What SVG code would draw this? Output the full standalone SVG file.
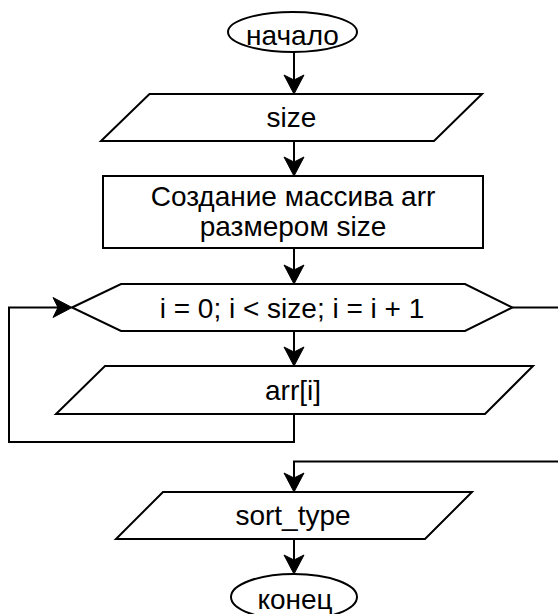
<svg xmlns="http://www.w3.org/2000/svg" width="558" height="614" viewBox="0 0 558 614">
  <style>
    .shape { fill: #ffffff; stroke: #000000; stroke-width: 2; }
    .conn { fill: none; stroke: #000000; stroke-width: 2; }
    .label { font-family: "Liberation Sans", Arial, Helvetica, sans-serif; font-size: 28px; fill: #000000; text-anchor: middle; }
  </style>
  <defs>
    <marker id="arrow" markerUnits="userSpaceOnUse" viewBox="-20 -11 21 22" refX="-10" refY="0" markerWidth="21" markerHeight="22" orient="auto">
      <path d="M0,0 L-19,-10 L-14,0 L-19,10 Z" fill="#000000" stroke="#000000" stroke-width="1" stroke-linejoin="miter"/>
    </marker>
  </defs>
  <rect x="0" y="0" width="558" height="614" fill="#ffffff"/>

  <g id="connectors">
    <path class="conn" d="M294,51 V84" marker-end="url(#arrow)"/>
    <path class="conn" d="M294,141 V166" marker-end="url(#arrow)"/>
    <path class="conn" d="M294,248 V274" marker-end="url(#arrow)"/>
    <path class="conn" d="M294,331 V356" marker-end="url(#arrow)"/>
    <path class="conn" d="M294,414 V442 H9 V307.5 H62" marker-end="url(#arrow)"/>
    <path class="conn" d="M512.5,307.5 H560 V461.5 H294 V482" marker-end="url(#arrow)"/>
    <path class="conn" d="M294,539 V564" marker-end="url(#arrow)"/>
  </g>

  <g id="start">
    <ellipse class="shape" cx="292.5" cy="32" rx="64.5" ry="20"/>
    <text class="label" x="292.5" y="45">начало</text>
  </g>

  <g id="input-size">
    <polygon class="shape" points="149.5,94 482,94 434,141 101,141"/>
    <text class="label" x="291.5" y="127">size</text>
  </g>

  <g id="create-array">
    <rect class="shape" x="103" y="176" width="380" height="72"/>
    <text class="label" x="293" y="206">Создание массива arr</text>
    <text class="label" x="293" y="236">размером size</text>
  </g>

  <g id="loop">
    <polygon class="shape" points="72,307.5 121,284 465,284 512.5,307.5 465,331 121,331"/>
    <text class="label" x="292" y="318">i = 0; i &lt; size; i = i + 1</text>
  </g>

  <g id="input-arr">
    <polygon class="shape" points="105,366 533,366 485,414 56,414"/>
    <text class="label" x="293" y="400">arr[i]</text>
  </g>

  <g id="input-sort-type">
    <polygon class="shape" points="163,492 472,492 425,539 116,539"/>
    <text class="label" x="293" y="525">sort_type</text>
  </g>

  <g id="end">
    <ellipse class="shape" cx="294" cy="597" rx="63" ry="23"/>
    <text class="label" x="295" y="609">конец</text>
  </g>
</svg>
